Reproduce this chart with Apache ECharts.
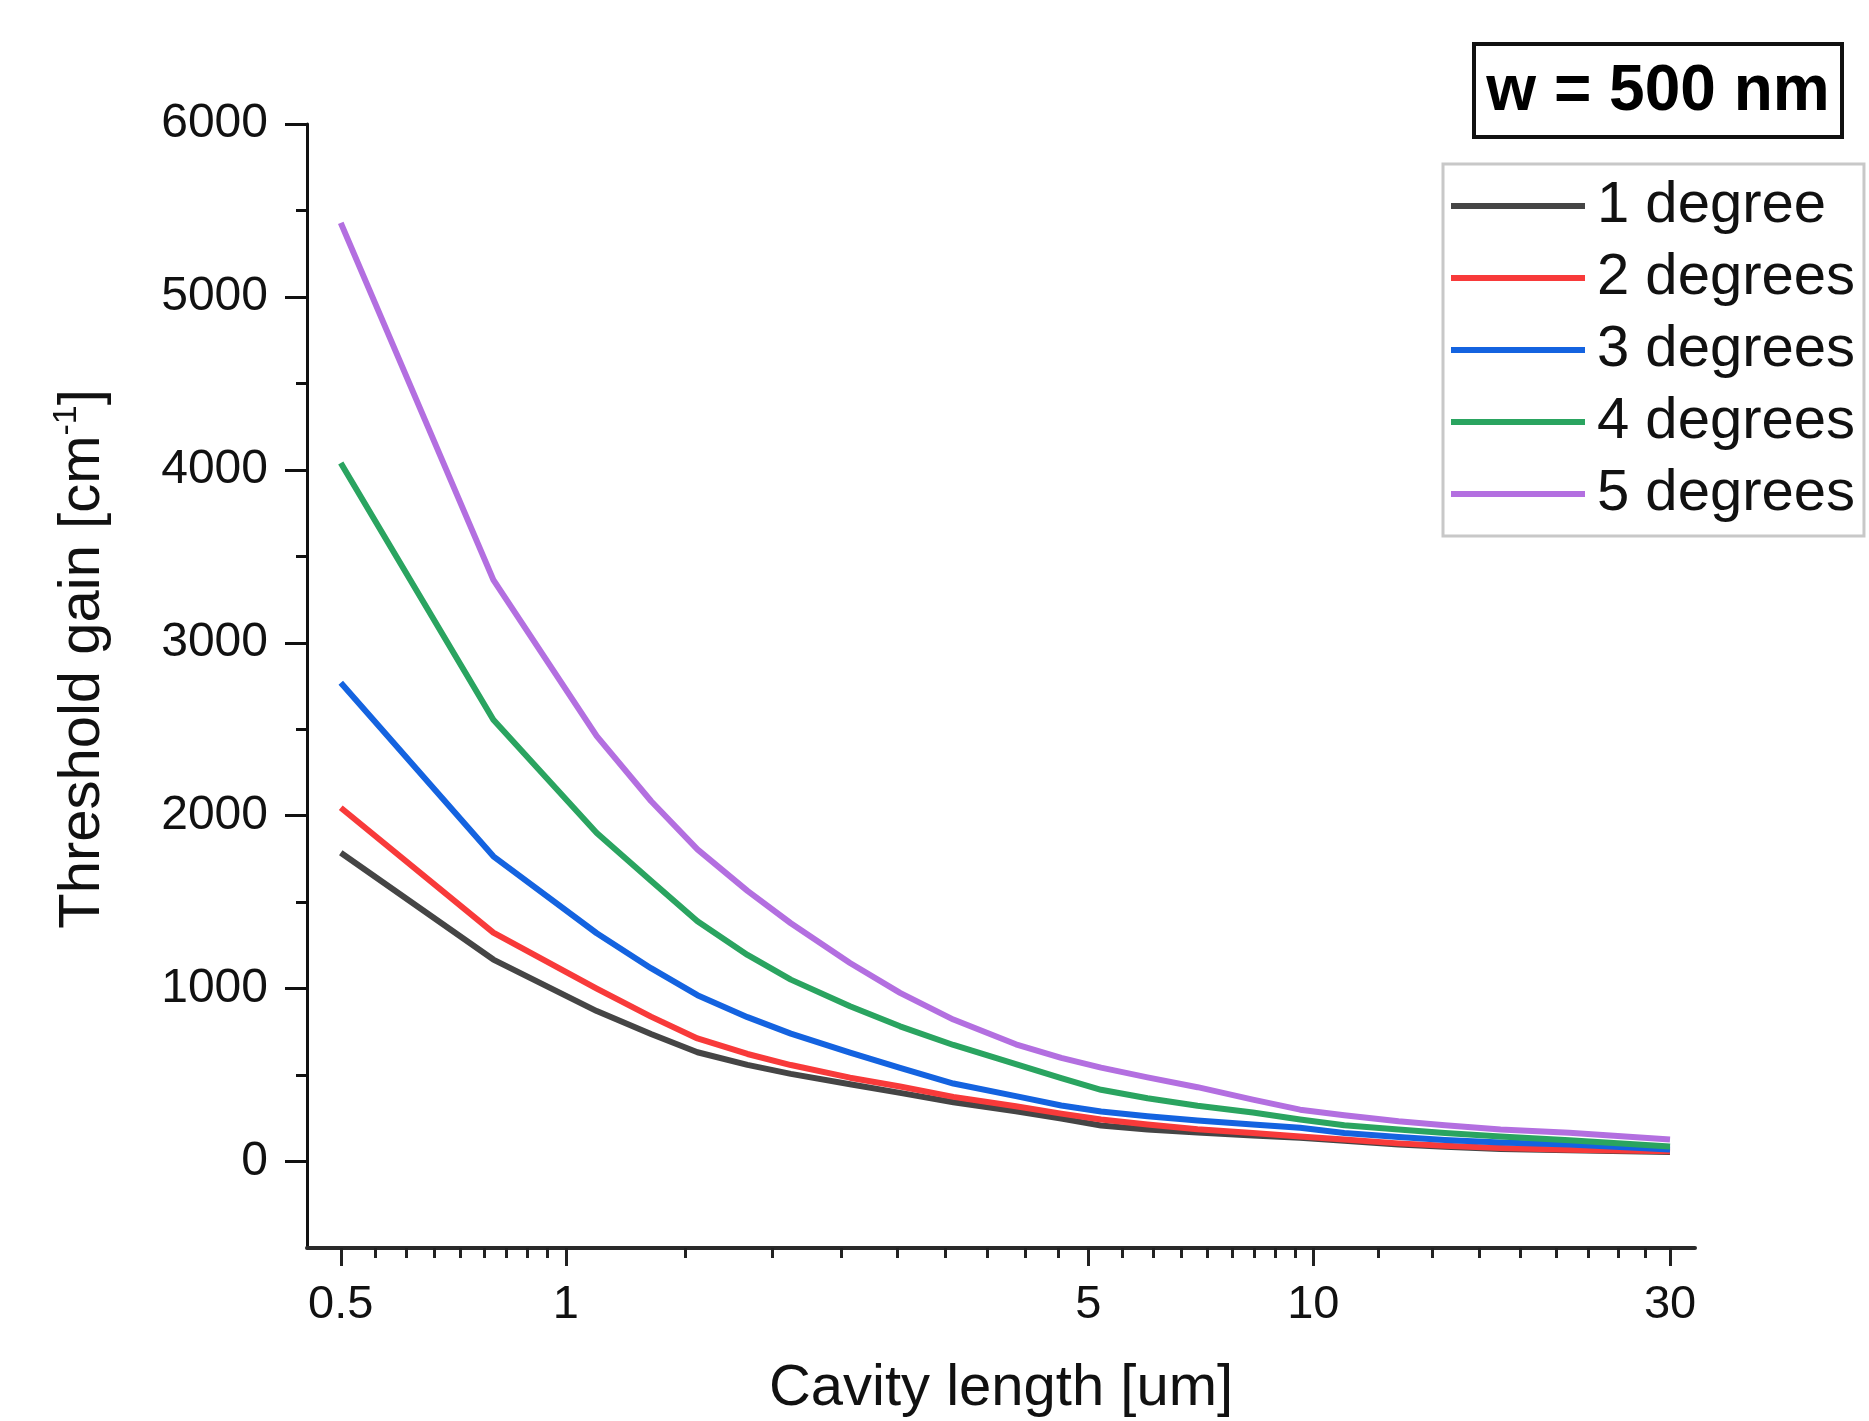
<!DOCTYPE html>
<html><head><meta charset="utf-8">
<script src="https://cdn.jsdelivr.net/npm/echarts@6/dist/echarts.min.js"></script>
<style>html,body{margin:0;padding:0;background:#fff}#c{width:1869px;height:1421px}</style>
</head><body><div id="c"></div>
<script>
// ---- data ----
const cavityLength = [0.5, 0.8, 1.1, 1.3, 1.5, 1.75, 2, 2.4, 2.8, 3.3, 4, 4.6, 5.2, 6, 7, 8.3, 9.6, 11, 13, 15, 17.8, 22, 30];
const gain1deg = [1786, 1168, 870, 738, 632, 559, 507, 447, 397, 343, 290, 248, 208, 185, 168, 150, 138, 120, 98, 85, 73, 65, 55];
const gain2deg = [2046, 1324, 1000, 838, 712, 622, 558, 485, 434, 374, 320, 277, 243, 214, 187, 165, 145, 127, 105, 92, 78, 68, 60];
const gain3deg = [2769, 1765, 1320, 1118, 962, 835, 740, 630, 541, 451, 378, 324, 289, 262, 237, 214, 195, 165, 142, 125, 110, 98, 69];
const gain4deg = [4040, 2555, 1900, 1624, 1390, 1195, 1052, 898, 782, 674, 563, 482, 415, 366, 323, 283, 243, 210, 185, 165, 145, 123, 87];
const gain5deg = [5428, 3364, 2460, 2085, 1805, 1565, 1378, 1148, 975, 821, 678, 599, 543, 487, 430, 358, 300, 268, 233, 210, 185, 166, 127];
const seriesNames = ['1 degree', '2 degrees', '3 degrees', '4 degrees', '5 degrees'];
const seriesColors = ['#454545', '#f83a3a', '#1463e0', '#2aa460', '#b36fe0'];
const xMajorTicks = [0.5, 1, 5, 10, 30];
const xMinorTicks = [0.5556, 0.6111, 0.6667, 0.7222, 0.7778, 0.8333, 0.8889, 0.9444,
  1.4444, 1.8889, 2.3333, 2.7778, 3.2222, 3.6667, 4.1111, 4.5556,
  5.5556, 6.1111, 6.6667, 7.2222, 7.7778, 8.3333, 8.8889, 9.4444,
  12.222, 14.444, 16.667, 18.889, 21.111, 23.333, 25.556, 27.778];
const yMajorTicks = [0, 1000, 2000, 3000, 4000, 5000, 6000];
const yMinorTicks = [500, 1500, 2500, 3500, 4500, 5500];
const boxLabel = 'w = 500 nm';

const FONT = '"Liberation Sans", Arial, Helvetica, sans-serif';
const gains = [gain1deg, gain2deg, gain3deg, gain4deg, gain5deg];

const chart = echarts.init(document.getElementById('c'), null, {renderer: 'canvas'});
const X_MIN = 0.4506, X_MAX = 32.4;
chart.setOption({
  animation: false,
  backgroundColor: '#fff',
  grid: {left: 307, right: 174, top: 124, bottom: 173, outerBoundsMode: 'none', containLabel: false},
  xAxis: [{
    type: 'log', logBase: 10, min: X_MIN, max: X_MAX,
    position: 'bottom',
    name: 'Cavity length [um]', nameLocation: 'middle', nameGap: 112, nameMoveOverlap: false,
    nameTextStyle: {fontSize: 58, fontFamily: FONT, color: '#111'},
    axisLine: {onZero: false, lineStyle: {color: '#2a2a2a', width: 4}},
    axisTick: {customValues: xMajorTicks, length: 18, lineStyle: {color: '#222', width: 3}},
    axisLabel: {customValues: xMajorTicks, margin: 34, fontSize: 47, fontFamily: FONT, color: '#111',
                formatter: v => String(v)},
    splitLine: {show: false}, minorTick: {show: false}
  }, {
    type: 'log', logBase: 10, min: X_MIN, max: X_MAX,
    position: 'bottom',
    axisLine: {show: false, onZero: false},
    axisTick: {customValues: xMinorTicks, length: 10, lineStyle: {color: '#222', width: 3}},
    axisLabel: {show: false},
    splitLine: {show: false}
  }],
  yAxis: [{
    type: 'value', min: -500, max: 6000,
    position: 'left',
    name: '{a|Threshold gain [cm}{s|-1}{a|]}',
    nameLocation: 'middle', nameGap: 191, nameRotate: 90, nameMoveOverlap: false,
    nameTextStyle: {
      fontSize: 58, fontFamily: FONT, color: '#111', padding: [0, 0, 0, 54],
      rich: {
        a: {fontSize: 58, fontFamily: FONT, color: '#111', lineHeight: 66},
        s: {fontSize: 34, fontFamily: FONT, color: '#111', lineHeight: 40, verticalAlign: 'top'}
      }
    },
    axisLine: {onZero: false, lineStyle: {color: '#111', width: 3}},
    axisTick: {customValues: yMajorTicks, length: 22, lineStyle: {color: '#111', width: 3}},
    axisLabel: {customValues: yMajorTicks, margin: 39, fontSize: 48, fontFamily: FONT, color: '#111',
                formatter: v => String(v)},
    splitLine: {show: false}
  }, {
    type: 'value', min: -500, max: 6000,
    position: 'left',
    axisLine: {show: false, onZero: false},
    axisTick: {customValues: yMinorTicks, length: 11, lineStyle: {color: '#111', width: 3}},
    axisLabel: {show: false},
    splitLine: {show: false}
  }],
  legend: {
    orient: 'vertical', left: 1443, top: 164,
    icon: 'rect', itemWidth: 134, itemHeight: 6, itemGap: 12,
    padding: [12, 9, 12, 8],
    borderColor: '#c8c8c8', borderWidth: 3, backgroundColor: '#fff',
    textStyle: {fontSize: 58, lineHeight: 60, color: '#111', fontFamily: FONT, padding: [0, 0, 0, 7]},
    data: seriesNames
  },
  graphic: [{
    type: 'group', left: 1472, top: 42,
    children: [
      {type: 'rect', shape: {x: 0, y: 0, width: 368, height: 93},
       style: {fill: '#fff', stroke: '#111', lineWidth: 4}},
      {type: 'text', x: 184, y: 48,
       style: {text: boxLabel, fontSize: 64, fontWeight: 'bold', fontFamily: FONT,
               fill: '#000', align: 'center', verticalAlign: 'middle'}}
    ]
  }],
  series: seriesNames.map((name, i) => ({
    name: name, type: 'line', xAxisIndex: 0, yAxisIndex: 0,
    data: cavityLength.map((x, j) => [x, gains[i][j]]),
    showSymbol: false, symbol: 'none',
    color: seriesColors[i],
    lineStyle: {color: seriesColors[i], width: 6, join: 'round'}
  }))
});
</script></body></html>
